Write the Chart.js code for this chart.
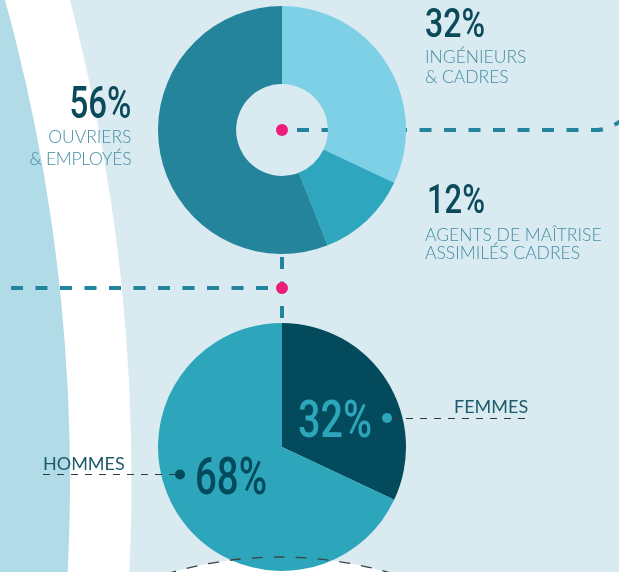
<!DOCTYPE html>
<html lang="fr">
<head>
<meta charset="utf-8">
<script src="https://cdn.jsdelivr.net/npm/chart.js@4.4.1/dist/chart.umd.min.js"></script>
<style>
  html, body { margin: 0; padding: 0; }
  body { width: 619px; height: 572px; overflow: hidden; position: relative; background: #d9eaf1; }
  svg, canvas { position: absolute; }
  #bg { left: 0; top: 0; z-index: 0; }
  #jobChart { left: 158px; top: 6px; z-index: 1; }
  #genderChart { left: 158px; top: 323px; z-index: 1; }
  #fg { left: 0; top: 0; z-index: 2; pointer-events: none; }
  .num { font-family: Roboto, sans-serif; font-weight: 500; }
  .cap { font-family: Lato, sans-serif; font-weight: 300; fill: #458ea3; font-size: 17.5px; }
  .tag { font-family: Lato, sans-serif; font-weight: 400; fill: #1d5a6b; font-size: 18px; }
</style>
</head>
<body>

<svg id="bg" width="619" height="572">
  <rect width="619" height="572" fill="#d9eaf1"/>
  <!-- curved bands on the left -->
  <circle cx="-1768.5" cy="480" r="1900" fill="#ffffff"/>
  <circle cx="-1735" cy="480" r="1805" fill="#b1dbe7"/>
  <!-- next block peeking at the bottom -->
  <circle cx="280" cy="946" r="389" fill="#ffffff"/>
  <g stroke="#23859d" stroke-width="4" fill="none" stroke-dasharray="12 12.5">
    <path d="M297 130 H596 Q609 130 625 118"/>
    <path d="M282 257 V318"/>
    <path d="M11 288 H282"/>
  </g>
  <circle cx="282" cy="130" r="6" fill="#ec1e79"/>
  <circle cx="282" cy="288" r="6" fill="#ec1e79"/>
</svg>

<canvas id="jobChart" width="248" height="248"></canvas>
<canvas id="genderChart" width="248" height="248"></canvas>

<svg id="fg" width="619" height="572">
  <circle cx="280" cy="946" r="389" fill="none" stroke="#3a4347" stroke-width="1.3" stroke-dasharray="11 11"/>
  <g stroke="#2f3a3e" stroke-width="1.2" stroke-dasharray="7 7">
    <path d="M392 418.5 H525"/>
    <path d="M43 474.5 H176"/>
  </g>
  <circle cx="387" cy="418" r="5" fill="#2da6bc"/>
  <circle cx="180" cy="474.5" r="5" fill="#034b5c"/>
</svg>

<script>
// Répartition par catégorie socio-professionnelle
const jobLabels = ['Ingénieurs & cadres', 'Agents de maîtrise assimilés cadres', 'Ouvriers & employés'];
const jobShares = [32, 12, 56];
const jobColors = ['#7dd0e6', '#2ea7be', '#23849c'];

// Répartition hommes / femmes
const genderLabels = ['Femmes', 'Hommes'];
const genderShares = [32, 68];
const genderColors = ['#034b5c', '#2da6bc'];

const baseOptions = {
    responsive: false,
    animation: false,
    events: [],
    layout: { padding: 0 },
    plugins: {
        legend: { display: false },
        tooltip: { enabled: false }
    }
};

new Chart(document.getElementById('jobChart').getContext('2d'), {
    type: 'doughnut',
    data: {
        labels: jobLabels,
        datasets: [{
            data: jobShares,
            backgroundColor: jobColors,
            borderWidth: 0
        }]
    },
    options: Object.assign({ cutout: '37%' }, baseOptions)
});

new Chart(document.getElementById('genderChart').getContext('2d'), {
    type: 'pie',
    data: {
        labels: genderLabels,
        datasets: [{
            data: genderShares,
            backgroundColor: genderColors,
            borderWidth: 0
        }]
    },
    options: baseOptions
});

// Textes
const fg = document.getElementById('fg');

function addText(x, y, str, cls, attrs) {
    const t = document.createElementNS('http://www.w3.org/2000/svg', 'text');
    t.setAttribute('x', x);
    t.setAttribute('y', y);
    t.setAttribute('class', cls);
    for (const [k, v] of Object.entries(attrs || {})) {
        t.setAttribute(k, v);
    }
    t.textContent = str;
    fg.appendChild(t);
}

function addNumber(x, y, value, size, width, color, anchor) {
    addText(x, y, value + '%', 'num', {
        'font-size': size,
        'fill': color,
        'textLength': width,
        'lengthAdjust': 'spacingAndGlyphs',
        'text-anchor': anchor || 'start'
    });
}

addNumber(425, 36.5, jobShares[0], 40, 60, '#0b4a5a');
addText(425, 63.3, 'INGÉNIEURS', 'cap');
addText(425, 83.3, '& CADRES', 'cap');

addNumber(427, 213, jobShares[1], 40, 58, '#0b4a5a');
addText(425, 240.7, 'AGENTS DE MAÎTRISE', 'cap');
addText(425, 259.3, 'ASSIMILÉS CADRES', 'cap');

addNumber(131.5, 118, jobShares[2], 44, 62, '#0b4a5a', 'end');
addText(131.5, 143.3, 'OUVRIERS', 'cap', { 'text-anchor': 'end' });
addText(131.5, 164.8, '& EMPLOYÉS', 'cap', { 'text-anchor': 'end', 'textLength': 102, 'lengthAdjust': 'spacing' });

addNumber(298, 437, genderShares[0], 52, 74, '#2da6bc');
addText(454, 412.7, 'FEMMES', 'tag');

addNumber(195, 494, genderShares[1], 51, 72, '#034b5c');
addText(43, 470, 'HOMMES', 'tag');
</script>
</body>
</html>
